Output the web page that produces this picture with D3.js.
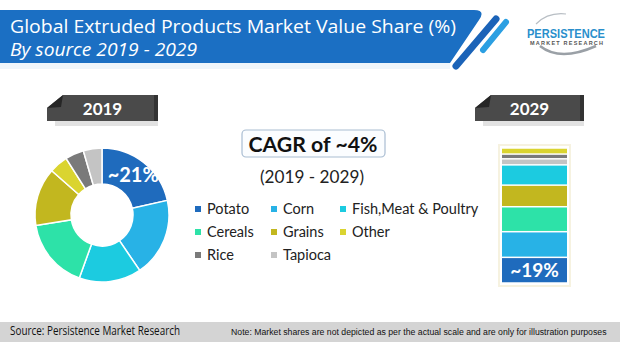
<!DOCTYPE html>
<html><head><meta charset="utf-8">
<script src="https://cdn.jsdelivr.net/npm/d3@7"></script>
<style>html,body{margin:0;padding:0;background:#fff;}svg{display:block;}</style>
</head><body>
<script>
const categories = ["Potato","Corn","Fish,Meat & Poultry","Cereals","Grains","Other","Rice","Tapioca"];
const share2019 = [21.5,19,15,17,14,4.5,4.5,4.5];
const share2029 = [19,19,15,18.5,16,4.5,3.5,4.5];
const stackOrder2029 = ["Potato","Corn","Cereals","Grains","Fish,Meat & Poultry","Tapioca","Rice","Other"];
const colors = ["#1f6bbd","#28b2e6","#1ccbe0","#2de2a8","#c2b71f","#dad430","#7a7a7a","#c4c4c4"];
const yearLabels = ["2019","2029"];
const titleText = "Global Extruded Products Market Value Share (%)";
const subtitleText = "By source 2019 - 2029";
const cagrText = "CAGR of ~4%";
const cagrPeriod = "(2019 - 2029)";
const sourceText = "Source: Persistence Market Research";
const noteText = "Note: Market shares are not depicted as per the actual scale and are only for illustration purposes";

const W = 620, H = 342;
const svg = d3.select("body").append("svg").attr("width", W).attr("height", H);
svg.append("rect").attr("width", W).attr("height", H).attr("fill", "#fff");
const color = d3.scaleOrdinal().domain(categories).range(colors);

// Header banner
svg.append("rect").attr("x",0).attr("y",63).attr("width",450).attr("height",6).attr("fill","#eef5fb");
svg.append("path").attr("d","M0,10 L474,10 Q486,10 479,20 L450,63 L0,63 Z").attr("fill","#1b6fc3");
svg.append("line").attr("x1",456).attr("y1",66).attr("x2",496).attr("y2",19)
  .attr("stroke","#1b63b8").attr("stroke-width",7).attr("stroke-linecap","round");
svg.append("line").attr("x1",483).attr("y1",50).attr("x2",506).attr("y2",22)
  .attr("stroke","#2b9fe2").attr("stroke-width",6).attr("stroke-linecap","round");
svg.append("text").attr("x",10).attr("y",33).text(titleText)
  .attr("font-family","Open Sans").attr("font-size",19).attr("fill","#fff")
  .attr("textLength",446).attr("lengthAdjust","spacingAndGlyphs");
svg.append("text").attr("x",10).attr("y",56).text(subtitleText)
  .attr("font-family","Open Sans").attr("font-size",17.5).attr("font-style","italic").attr("fill","#fff")
  .attr("textLength",187).attr("lengthAdjust","spacingAndGlyphs");

// Logo
const logo = svg.append("g");
logo.append("path").attr("d","M540,46 Q560,62 596,46").attr("fill","none").attr("stroke","#9aa0a6").attr("stroke-width",2.5);
logo.append("path").attr("d","M536,24 Q548,12 566,14").attr("fill","none").attr("stroke","#b8bec4").attr("stroke-width",1.2);
logo.append("text").attr("x",527).attr("y",38).text("PERSISTENCE")
  .attr("font-family","Liberation Sans Narrow, Liberation Sans").attr("font-weight","bold")
  .attr("font-size",13).attr("fill","#2a8fcc").attr("textLength",78).attr("lengthAdjust","spacingAndGlyphs");
logo.append("text").attr("x",530).attr("y",44.5).text("MARKET RESEARCH")
  .attr("font-family","Liberation Sans").attr("font-weight","bold")
  .attr("font-size",5.5).attr("fill","#555").attr("textLength",73).attr("lengthAdjust","spacing");

// Year tags
function yearTag(x0, x1, label) {
  const g = svg.append("g");
  g.append("rect").attr("x",x0+8).attr("y",121).attr("width",x1-x0-8).attr("height",5).attr("fill","#e2e2e2");
  g.append("path").attr("d",`M${x0+16},95 L${x1},95 L${x1},121 L${x0},121 L${x0},108 Z`).attr("fill","#4a4a4a");
  g.append("rect").attr("x",x1-4).attr("y",95).attr("width",4).attr("height",26).attr("fill","#333");
  g.append("path").attr("d",`M${x0},108 L${x0+16},95 L${x0+14},107 Z`).attr("fill","#262626");
  g.append("text").attr("x",(x0+x1)/2).attr("y",115).attr("text-anchor","middle").text(label)
    .attr("font-family","Lato").attr("font-weight","bold").attr("font-size",17).attr("fill","#fff");
}
yearTag(47,158,yearLabels[0]);
yearTag(475,584,yearLabels[1]);

// Donut 2019
const cx = 102, cy = 215;
const pie = d3.pie().sort(null).value(d => d.v);
const data2019 = categories.map((c,i) => ({c, v: share2019[i]}));
const arcs = pie(data2019);
const arc = d3.arc().innerRadius(31).outerRadius(67);
const dg = svg.append("g").attr("transform",`translate(${cx},${cy})`);
dg.selectAll("path").data(arcs).join("path").attr("d",arc)
  .attr("fill",d => color(d.data.c)).attr("stroke","#fff").attr("stroke-width",1.5);
const lblArc = d3.arc().innerRadius(40).outerRadius(60);
const c0 = lblArc.centroid(arcs[0]);
dg.append("text").attr("x",c0[0]).attr("y",c0[1]+6).attr("text-anchor","middle")
  .text("~" + Math.floor(share2019[0]) + "%")
  .attr("font-family","Lato").attr("font-weight","bold").attr("font-size",20).attr("fill","#fff");

// CAGR box
svg.append("rect").attr("x",242).attr("y",130).attr("width",143).attr("height",27).attr("rx",4)
  .attr("fill","#fbfdff").attr("stroke","#a9bdd2").attr("stroke-width",1.2);
svg.append("text").attr("x",313).attr("y",152).attr("text-anchor","middle").text(cagrText)
  .attr("font-family","Lato").attr("font-weight","bold").attr("font-size",21).attr("fill","#111")
  .attr("textLength",129).attr("lengthAdjust","spacingAndGlyphs");
svg.append("text").attr("x",312).attr("y",183).attr("text-anchor","middle").text(cagrPeriod)
  .attr("font-family","Lato").attr("font-size",18).attr("fill","#222")
  .attr("textLength",104).attr("lengthAdjust","spacingAndGlyphs");

// Legend
const colX = [195, 271, 340];
const rowY = [209, 232, 255];
const lg = svg.append("g");
categories.forEach((c,i) => {
  const x = colX[i % 3], y = rowY[Math.floor(i / 3)];
  lg.append("rect").attr("x",x).attr("y",y-3).attr("width",6).attr("height",6).attr("fill",color(c));
  lg.append("text").attr("x",x+12).attr("y",y+5).text(c)
    .attr("font-family","Lato").attr("font-size",14.5).attr("fill","#222");
});

// Stacked bar 2029
const x = d3.scaleBand().domain([yearLabels[1]]).range([502,567]).padding(0);
const y = d3.scaleLinear().domain([0,100]).range([283,148]);
svg.append("rect").attr("x",499).attr("y",145).attr("width",71).attr("height",141)
  .attr("fill","none").attr("stroke","#f6f2e0").attr("stroke-width",2);
let cum = 0;
const segs = stackOrder2029.map(c => {
  const v = share2029[categories.indexOf(c)];
  const s = {c, v, y0: cum, y1: cum + v};
  cum += v;
  return s;
});
svg.append("g").selectAll("rect").data(segs).join("rect")
  .attr("x", x(yearLabels[1])).attr("width", x.bandwidth())
  .attr("y", d => y(d.y1) + 0.75)
  .attr("height", d => Math.max(0.5, y(d.y0) - y(d.y1) - 1.5))
  .attr("fill", d => color(d.c));
svg.append("text").attr("x", x(yearLabels[1]) + x.bandwidth()/2).attr("y", 277)
  .attr("text-anchor","middle").text("~" + share2029[0] + "%")
  .attr("font-family","Lato").attr("font-weight","bold").attr("font-size",19).attr("fill","#fff");

// Footer
svg.append("rect").attr("x",0).attr("y",322).attr("width",W).attr("height",20).attr("fill","#d4d4d4");
svg.append("text").attr("x",10).attr("y",335).text(sourceText)
  .attr("font-family","Open Sans").attr("font-size",12).attr("fill","#111")
  .attr("textLength",170).attr("lengthAdjust","spacingAndGlyphs");
const noteG = svg.append("g");
const note = noteG.append("text").attr("x",0).attr("y",0).text(noteText)
  .attr("font-family","Liberation Sans").attr("font-size",9.3).attr("fill","#111");
const natural = note.node().getComputedTextLength();
noteG.attr("transform",`translate(231,335) scale(${376 / natural},1)`);
</script>
</body></html>
